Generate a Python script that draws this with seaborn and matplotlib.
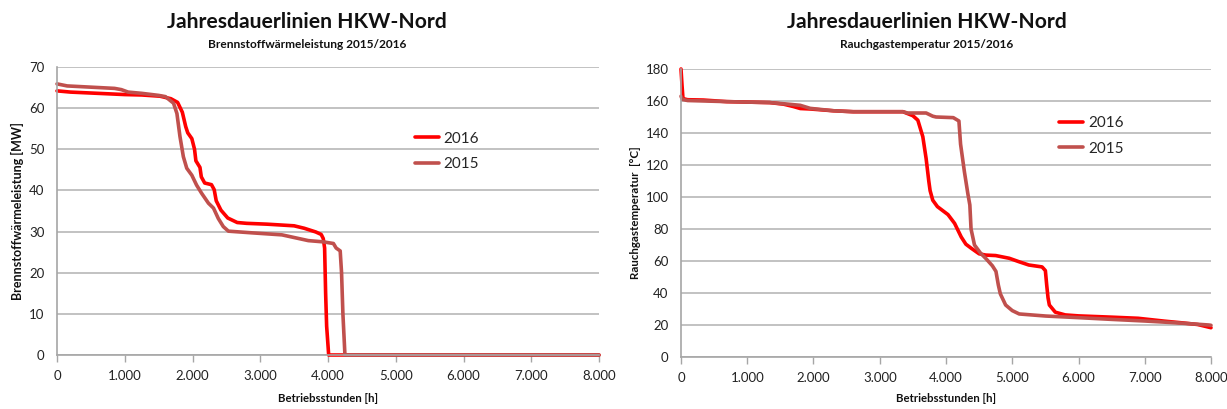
import numpy as np
import pandas as pd
import matplotlib
matplotlib.use("Agg")
import matplotlib.pyplot as plt
import seaborn as sns

# ---------------- data ----------------
title_text = "Jahresdauerlinien HKW-Nord"
subtitles = ["Brennstoffwärmeleistung 2015/2016", "Rauchgastemperatur 2015/2016"]
ylabels = ["Brennstoffwärmeleistung [MW]", "Rauchgastemperatur  [°C]"]
xlabel_text = "Betriebsstunden [h]"
series_names = ["2016", "2015"]

xticks = [0, 1000, 2000, 3000, 4000, 5000, 6000, 7000, 8000]
xtick_labels = ["0", "1.000", "2.000", "3.000", "4.000", "5.000", "6.000", "7.000", "8.000"]
yticks_left = [0, 10, 20, 30, 40, 50, 60, 70]
yticks_right = [0, 20, 40, 60, 80, 100, 120, 140, 160, 180]

# Brennstoffwärmeleistung 2016 [MW]
bw16_h = [0, 200, 600, 1000, 1250, 1520, 1680, 1780, 1850, 1900, 1930, 1990, 2030, 2050, 2110,
          2130, 2180, 2280, 2320, 2350, 2420, 2520, 2660, 2800, 3100, 3500, 3650, 3820, 3900,
          3930, 3950, 3965, 3980, 4010, 8000]
bw16_v = [64.2, 63.9, 63.6, 63.3, 63.2, 62.9, 62.3, 61.4, 59.0, 55.5, 54.0, 52.6, 50.0, 47.2, 45.6,
          43.3, 41.8, 41.4, 40.2, 37.5, 35.2, 33.3, 32.2, 32.0, 31.8, 31.4, 30.8, 29.9, 29.3,
          28.3, 26.0, 15.0, 7.0, 0.0, 0.0]
# Brennstoffwärmeleistung 2015 [MW]
bw15_h = [0, 150, 500, 850, 950, 1050, 1250, 1500, 1600, 1720, 1770, 1815, 1865, 1915, 1990,
          2060, 2135, 2235, 2310, 2380, 2455, 2530, 2870, 3320, 3710, 3930, 4080, 4120, 4180,
          4200, 4220, 4250, 8000]
bw15_v = [65.9, 65.4, 65.1, 64.8, 64.5, 63.9, 63.6, 63.1, 62.8, 61.2, 58.7, 53.1, 48.2, 45.4, 43.7,
          41.3, 39.3, 36.9, 35.7, 33.2, 31.2, 30.1, 29.7, 29.2, 27.8, 27.5, 27.1, 26.0, 25.3,
          20.0, 10.0, 0.0, 0.0]

# Rauchgastemperatur 2016 [°C]
rg16_h = [0, 15, 30, 100, 340, 690, 1340, 1550, 1700, 1800, 1950, 2300, 2600, 3350, 3500, 3575,
          3650, 3700, 3740, 3760, 3800, 3870, 3950, 4030, 4130, 4230, 4300, 4380, 4500, 4600,
          4750, 4955, 5105, 5250, 5450, 5500, 5520, 5540, 5560, 5650, 5800, 6000, 6500, 6900,
          7300, 7600, 7800, 8000]
rg16_v = [180, 170, 161.5, 160.8, 160.6, 159.6, 159.0, 158.0, 156.5, 155.3, 155.0, 153.9, 153.3,
          153.3, 150.8, 148.0, 137.7, 124.0, 110.0, 104.0, 98.0, 94.0, 91.5, 89.0, 83.5, 75.0,
          70.5, 68.0, 64.5, 63.7, 63.4, 61.7, 59.5, 57.5, 56.3, 54.0, 45.0, 37.0, 32.5, 28.0,
          26.3, 25.7, 24.9, 24.2, 22.4, 21.2, 20.3, 18.3]
# Rauchgastemperatur 2015 [°C]
rg15_h = [0, 20, 100, 700, 1340, 1600, 1800, 1950, 2300, 2600, 3350, 3420, 3700, 3800, 3850,
          4110, 4195, 4220, 4277, 4330, 4360, 4378, 4430, 4520, 4603, 4700, 4754, 4790, 4820,
          4900, 5000, 5105, 5507, 6000, 6506, 7000, 7500, 7967, 8000]
rg15_v = [163, 161, 160.3, 159.6, 159.0, 158.1, 157.3, 155.4, 153.9, 153.3, 153.3, 152.5, 152.5,
          150.5, 150.0, 149.6, 147.5, 133.0, 116.0, 102.0, 95.0, 80.0, 70.0, 65.0, 61.5, 57.0,
          53.5, 45.0, 39.5, 32.5, 29.0, 26.9, 25.6, 24.6, 23.5, 22.5, 21.3, 20.0, 19.8]

# ---------------- style ----------------
sns.set_theme(style="white")
FONT = ["Lato", "DejaVu Sans"]
plt.rcParams["font.family"] = FONT
colors = {"2016": "#FF0000", "2015": "#C0504D"}
grid_c = "#BDBDBD"
axis_c = "#A6A6A6"

fig = plt.figure(figsize=(12.27, 4.09), dpi=100)
W, H = 1227, 409

def make_df(h16, v16, h15, v15):
    return pd.concat([
        pd.DataFrame({"h": h16, "v": v16, "Jahr": "2016"}),
        pd.DataFrame({"h": h15, "v": v15, "Jahr": "2015"}),
    ], ignore_index=True)

panels = [
    dict(rect=[57 / W, 1 - 355 / H, (599 - 57) / W, 288 / H],
         df=make_df(bw16_h, bw16_v, bw15_h, bw15_v), yticks=yticks_left, ylim=(0, 70),
         title_x=307 / W, leg=(0.66, 0.776), ylabel_x=17, ylabel_fs=9.0),
    dict(rect=[681 / W, 1 - 357 / H, (1211 - 681) / W, 288 / H],
         df=make_df(rg16_h, rg16_v, rg15_h, rg15_v), yticks=yticks_right, ylim=(0, 180),
         title_x=927 / W, leg=(0.713, 0.836), ylabel_x=636, ylabel_fs=8.3),
]

for i, p in enumerate(panels):
    ax = fig.add_axes(p["rect"])
    sns.lineplot(data=p["df"], x="h", y="v", hue="Jahr", hue_order=series_names,
                 palette=colors, sort=False, estimator=None, linewidth=2.6, ax=ax)
    for ln in ax.get_lines():
        ln.set_clip_on(False)
        ln.set_solid_joinstyle("round")
    ax.set_xlim(0, 8000)
    ax.set_ylim(*p["ylim"])
    ax.set_xticks(xticks)
    ax.set_xticklabels(xtick_labels)
    ax.set_yticks(p["yticks"])
    ax.set_yticklabels([str(t) for t in p["yticks"]])
    ax.yaxis.grid(True, color=grid_c, linewidth=1.3)
    ax.set_axisbelow(True)
    for s in ["top", "right"]:
        ax.spines[s].set_visible(False)
    for s in ["left", "bottom"]:
        ax.spines[s].set_color(axis_c)
        ax.spines[s].set_linewidth(1.2)
    ax.tick_params(axis="x", which="major", direction="out", length=5, width=1, color=axis_c,
                   pad=6, labelsize=9.5, labelcolor="#222222", bottom=True)
    ax.tick_params(axis="y", length=0, pad=9, labelsize=9.5, labelcolor="#222222")
    ax.set_xlabel("")
    ax.set_ylabel("")
    leg = ax.legend(loc="upper left", bbox_to_anchor=p["leg"], frameon=False, fontsize=11,
                    handlelength=1.6, handletextpad=0.3, labelspacing=0.75, borderaxespad=0,
                    borderpad=0)
    for lh in leg.get_lines():
        lh.set_linewidth(2.6)
    cx = p["rect"][0] + p["rect"][2] / 2
    fig.text(p["title_x"], 1 - 22 / H, title_text, ha="center", va="center",
             fontsize=15.2, fontweight="bold", color="#111111")
    fig.text(p["title_x"], 1 - 44 / H, subtitles[i], ha="center", va="center",
             fontsize=8.6, fontweight="bold", color="#111111")
    fig.text(cx, 1 - 398 / H, xlabel_text, ha="center", va="center",
             fontsize=8.2, fontweight="bold", color="#111111")
    cy = p["rect"][1] + p["rect"][3] / 2
    fig.text(p["ylabel_x"] / W, cy, ylabels[i], ha="center", va="center", rotation=90,
             fontsize=p["ylabel_fs"], fontweight="bold", color="#111111")

fig.savefig("out.png", dpi=100)
